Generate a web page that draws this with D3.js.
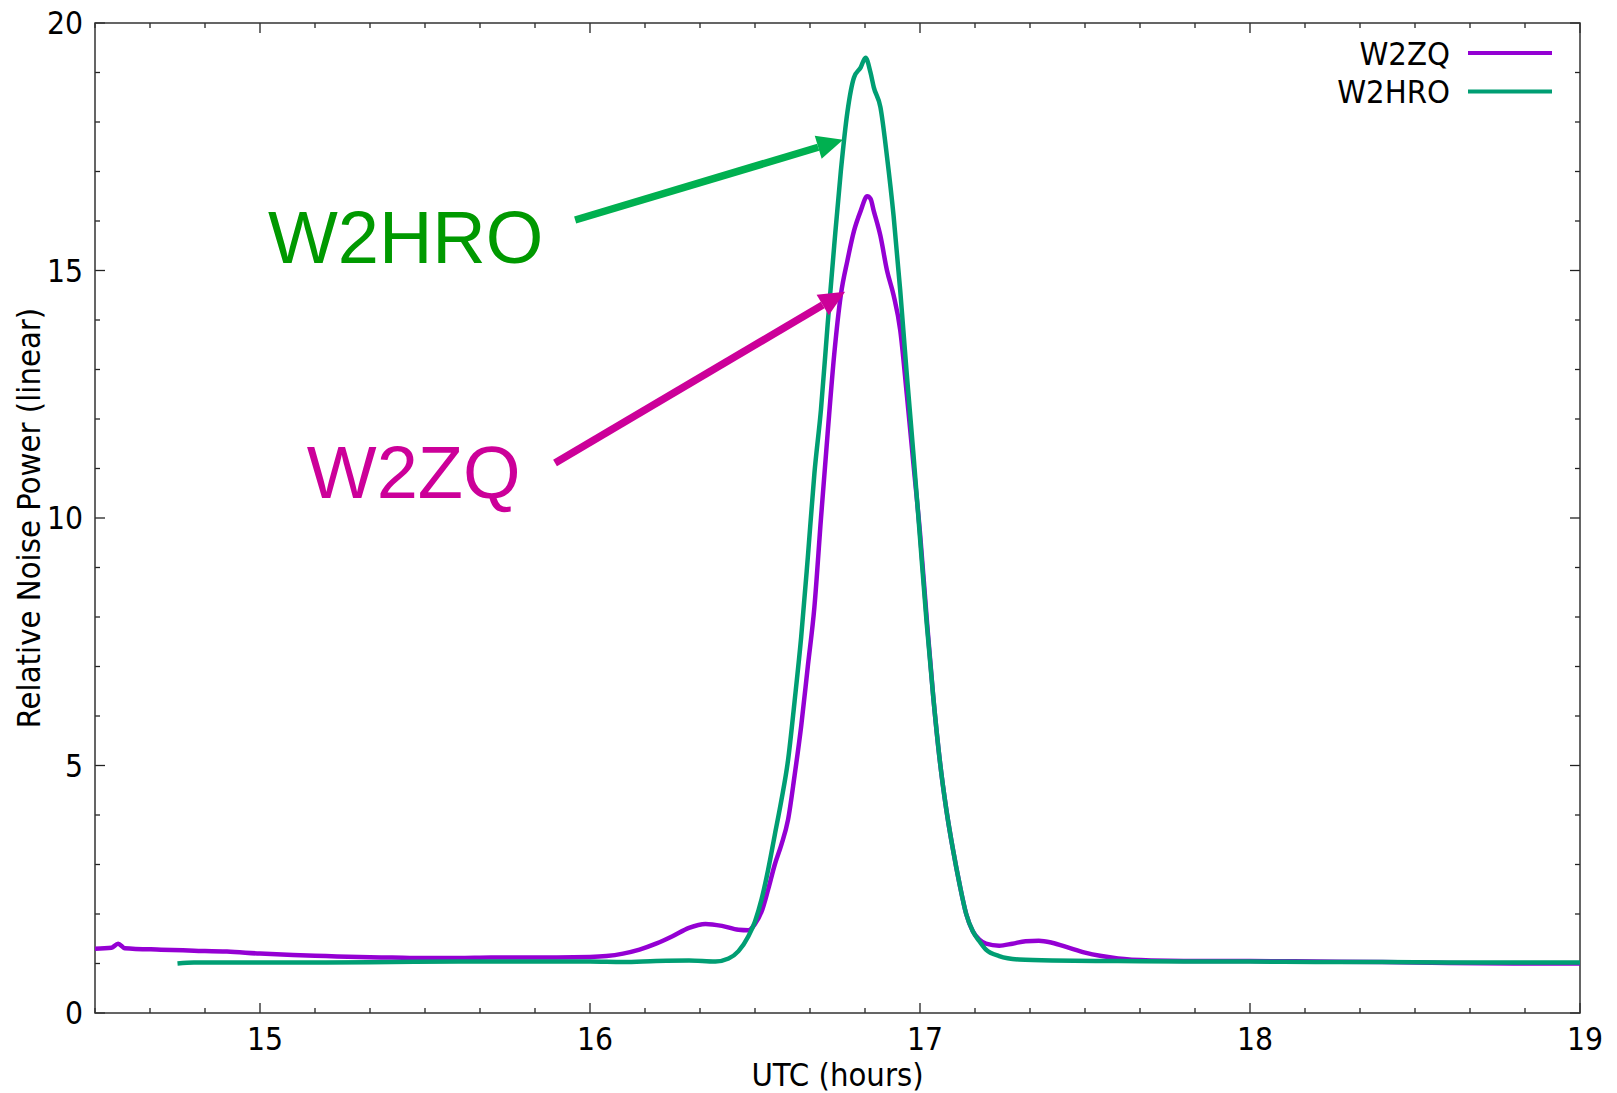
<!DOCTYPE html>
<html><head><meta charset="utf-8">
<script src="https://cdn.jsdelivr.net/npm/d3@7"></script>
<style>
html,body{margin:0;padding:0;background:#fff;}
svg{display:block;}
</style></head>
<body>
<script>
// ---- data ----
const w2zqHours = [14.50,14.55,14.57,14.59,14.70,14.80,14.90,15.00,15.10,15.20,15.30,15.40,15.50,15.60,15.70,15.80,15.90,16.00,16.05,16.10,16.15,16.20,16.25,16.30,16.35,16.40,16.45,16.48,16.50,16.52,16.54,16.56,16.58,16.60,16.62,16.64,16.66,16.68,16.70,16.72,16.74,16.76,16.78,16.80,16.82,16.84,16.85,16.86,16.88,16.90,16.92,16.94,16.96,16.98,17.00,17.02,17.04,17.06,17.08,17.10,17.12,17.14,17.16,17.18,17.20,17.24,17.28,17.32,17.36,17.40,17.45,17.50,17.55,17.60,17.70,17.80,18.00,18.20,18.40,18.60,18.80,19.00];
const w2zqValues = [1.30,1.32,1.40,1.31,1.28,1.26,1.24,1.20,1.17,1.15,1.13,1.12,1.11,1.11,1.12,1.12,1.12,1.13,1.15,1.20,1.28,1.40,1.55,1.72,1.80,1.76,1.68,1.67,1.80,2.05,2.50,3.00,3.40,3.90,4.80,5.80,7.00,8.20,10.0,11.7,13.3,14.5,15.2,15.8,16.2,16.5,16.45,16.2,15.7,15.0,14.5,13.8,12.5,11.1,9.7,8.0,6.4,5.1,4.1,3.3,2.6,2.0,1.65,1.48,1.40,1.36,1.40,1.45,1.46,1.42,1.32,1.22,1.15,1.10,1.06,1.05,1.05,1.04,1.03,1.01,1.00,1.00];

const w2hroHours = [14.75,14.80,15.00,15.20,15.40,15.60,15.80,16.00,16.10,16.20,16.30,16.38,16.42,16.45,16.48,16.50,16.52,16.54,16.56,16.58,16.60,16.62,16.64,16.66,16.68,16.70,16.72,16.74,16.76,16.78,16.80,16.82,16.835,16.85,16.86,16.88,16.90,16.92,16.94,16.96,16.98,17.00,17.02,17.04,17.06,17.08,17.10,17.12,17.14,17.16,17.18,17.20,17.24,17.30,17.40,17.60,17.80,18.00,18.20,18.40,18.60,18.80,19.00];
const w2hroValues = [1.00,1.02,1.02,1.02,1.03,1.04,1.04,1.04,1.03,1.05,1.06,1.04,1.10,1.25,1.55,1.85,2.30,2.90,3.60,4.30,5.10,6.30,7.60,9.20,10.9,12.2,13.9,15.5,17.0,18.2,18.9,19.1,19.3,19.0,18.7,18.3,17.3,16.1,14.6,12.9,11.3,9.6,7.9,6.4,5.1,4.1,3.3,2.6,2.0,1.65,1.45,1.28,1.15,1.08,1.06,1.05,1.04,1.04,1.03,1.03,1.02,1.02,1.02];

const seriesNames = ["W2ZQ","W2HRO"];
const xTickLabels = [15,16,17,18,19];
const yTickLabels = [0,5,10,15,20];
const xTitle = "UTC (hours)";
const yTitle = "Relative Noise Power (linear)";
// annotations: label positions and arrow endpoints in data units
const annoLabels = ["W2HRO","W2ZQ"];
const annoText = [[15.024,15.15],[15.142,10.40]];
const annoArrows = [[15.955,16.02,16.767,17.64],[15.894,11.11,16.773,14.57]];

// ---- layout ----
const W = 1617, H = 1093;
const m = {left:95, right:W-1580, top:23, bottom:H-1013};
const colors = ["#9400D3","#009E73"];
const annoTextColors = ["#009900","#CC0099"];
const annoArrowColors = ["#00B050","#CC0099"];
const tickFont = "'DejaVu Sans Condensed','DejaVu Sans',sans-serif";

const svg = d3.select("body").append("svg").attr("width",W).attr("height",H);
const x = d3.scaleLinear().domain([14.5,19]).range([m.left, W-m.right]);
const y = d3.scaleLinear().domain([0,20]).range([H-m.bottom, m.top]);

const x0=x.range()[0], x1=x.range()[1], y0=y.range()[0], y1=y.range()[1];

// ticks (gnuplot style: inward, mirrored)
const minorX = d3.range(14.5, 19.0001, 1/6).filter(v=>Math.abs(v-Math.round(v))>1e-6);
const minorY = d3.range(0,20.0001,1).filter(v=>v%5!==0);
const tg = svg.append("g").attr("stroke","#222").attr("stroke-width",1.3);
function vt(v,len){
  tg.append("line").attr("x1",x(v)).attr("x2",x(v)).attr("y1",y0).attr("y2",y0-len);
  tg.append("line").attr("x1",x(v)).attr("x2",x(v)).attr("y1",y1).attr("y2",y1+len);
}
function ht(v,len){
  tg.append("line").attr("y1",y(v)).attr("y2",y(v)).attr("x1",x0).attr("x2",x0+len);
  tg.append("line").attr("y1",y(v)).attr("y2",y(v)).attr("x1",x1).attr("x2",x1-len);
}
minorX.forEach(v=>vt(v,5));
xTickLabels.forEach(v=>vt(v,10));
minorY.forEach(v=>ht(v,5));
yTickLabels.forEach(v=>ht(v,10));

// border
svg.append("rect").attr("x",x0).attr("y",y1).attr("width",x1-x0).attr("height",y0-y1)
  .attr("fill","none").attr("stroke","#333").attr("stroke-width",1.5);

// tick labels
svg.append("g").selectAll("text").data(xTickLabels).join("text")
  .attr("x",d=>x(d)+5).attr("y",y0+37).attr("text-anchor","middle")
  .attr("font-family",tickFont).attr("font-size",31.5).attr("fill","#000").text(d=>d);
svg.append("g").selectAll("text").data(yTickLabels).join("text")
  .attr("x",x0-12).attr("y",d=>y(d)).attr("dy","0.36em").attr("text-anchor","end")
  .attr("font-family",tickFont).attr("font-size",31.5).attr("fill","#000").text(d=>d);

// axis titles
svg.append("text").attr("x",(x0+x1)/2).attr("y",1086).attr("text-anchor","middle")
  .attr("font-family",tickFont).attr("font-size",32.5).text(xTitle);
svg.append("text").attr("transform",`translate(40,${(y0+y1)/2}) rotate(-90)`).attr("text-anchor","middle")
  .attr("font-family",tickFont).attr("font-size",32.5).text(yTitle);

// series
const line = d3.line().curve(d3.curveMonotoneX).x(d=>x(d[0])).y(d=>y(d[1]));
const series = [d3.zip(w2zqHours,w2zqValues), d3.zip(w2hroHours,w2hroValues)];
series.forEach((s,i)=>{
  svg.append("path").datum(s).attr("d",line).attr("fill","none")
    .attr("stroke",colors[i]).attr("stroke-width",4.5).attr("stroke-linejoin","round");
});

// legend
seriesNames.forEach((n,i)=>{
  const ly = 53 + i*38.5;
  svg.append("text").attr("x",1450).attr("y",ly).attr("dy","0.36em").attr("text-anchor","end")
    .attr("font-family",tickFont).attr("font-size",32.5).text(n);
  svg.append("line").attr("x1",1468).attr("x2",1552).attr("y1",ly).attr("y2",ly)
    .attr("stroke",colors[i]).attr("stroke-width",4);
});

// annotations
annoLabels.forEach((lab,i)=>{
  svg.append("text").attr("x",x(annoText[i][0])).attr("y",y(annoText[i][1]))
    .attr("font-family","'Liberation Sans',Arial,sans-serif").attr("font-size",74)
    .attr("fill",annoTextColors[i]).text(lab);
  const [fx,fy,tx,ty] = annoArrows[i];
  const X1=x(fx),Y1=y(fy),X2=x(tx),Y2=y(ty);
  const ang=Math.atan2(Y2-Y1,X2-X1), hl=26, hw=12;
  const bx=X2-hl*Math.cos(ang), by=Y2-hl*Math.sin(ang);
  svg.append("line").attr("x1",X1).attr("y1",Y1).attr("x2",bx).attr("y2",by)
    .attr("stroke",annoArrowColors[i]).attr("stroke-width",7.5);
  const px=-Math.sin(ang), py=Math.cos(ang);
  svg.append("path").attr("d",`M${X2},${Y2}L${bx+hw*px},${by+hw*py}L${bx-hw*px},${by-hw*py}Z`)
    .attr("fill",annoArrowColors[i]);
});
</script>
</body></html>
